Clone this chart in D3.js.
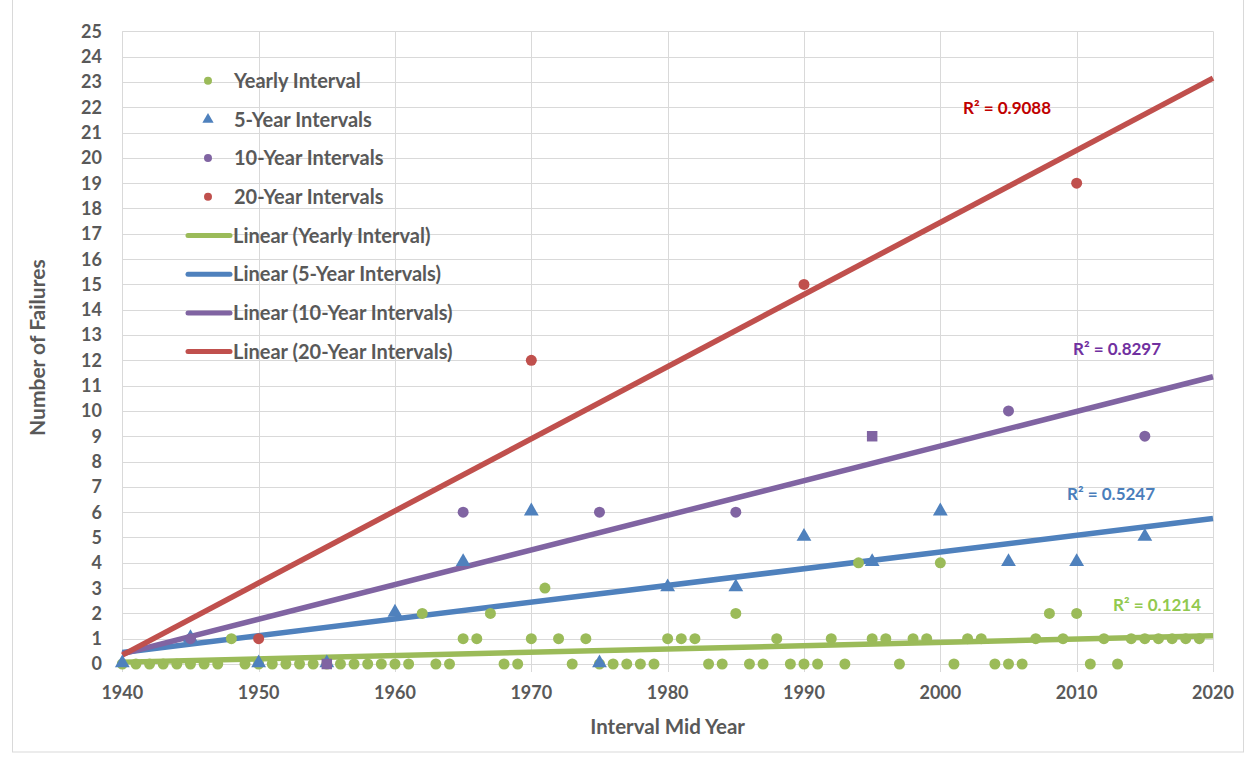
<!DOCTYPE html>
<html>
<head>
<meta charset="utf-8">
<script src="https://cdn.jsdelivr.net/npm/d3@7"></script>
<style>
  html, body { margin: 0; padding: 0; background: #fff; }
  svg { display: block; font-family: Lato, "Open Sans", sans-serif; }
</style>
</head>
<body>
<svg id="chart" width="1254" height="757"></svg>
<script>
// yearly failures 1940 - 2019
var yearlyYears = [1940,1941,1942,1943,1944,1945,1946,1947,1948,1949,
                   1950,1951,1952,1953,1954,1955,1956,1957,1958,1959,
                   1960,1961,1962,1963,1964,1965,1966,1967,1968,1969,
                   1970,1971,1972,1973,1974,1975,1976,1977,1978,1979,
                   1980,1981,1982,1983,1984,1985,1986,1987,1988,1989,
                   1990,1991,1992,1993,1994,1995,1996,1997,1998,1999,
                   2000,2001,2002,2003,2004,2005,2006,2007,2008,2009,
                   2010,2011,2012,2013,2014,2015,2016,2017,2018,2019];
var yearlyCounts = [0,0,0,0,0,0,0,0,1,0,
                    0,0,0,0,0,0,0,0,0,0,
                    0,0,2,0,0,1,1,2,0,0,
                    1,3,1,0,1,0,0,0,0,0,
                    1,1,1,0,0,2,0,0,1,0,
                    0,0,1,0,4,1,1,0,1,1,
                    4,0,1,1,0,0,0,1,2,1,
                    2,0,1,0,1,1,1,1,1,1];

var fiveYears = [1940,1945,1950,1955,1960,1965,1970,1975,1980,1985,1990,1995,2000,2005,2010,2015];
var fiveCounts = [0,1,0,0,2,4,6,0,3,3,5,4,6,4,4,5];

var tenYears = [1945,1955,1965,1975,1985,1995,2005,2015];
var tenCounts = [1,0,6,6,6,9,10,9];

var twentyYears = [1950,1970,1990,2010];
var twentyCounts = [1,12,15,19];

var xTicks = [1940,1950,1960,1970,1980,1990,2000,2010,2020];
var yTicks = d3.range(0, 26);

var seriesNames = ['Yearly Interval','5-Year Intervals','10-Year Intervals','20-Year Intervals'];

var green = '#9bbb59', blue = '#4f81bd', purple = '#8064a2', red = '#c0504d';
var textGray = '#595959';
var gridColor = '#d9d9d9';

var svg = d3.select('#chart');

var x = d3.scaleLinear().domain([1940, 2020]).range([122.3, 1213]);
var y = d3.scaleLinear().domain([0, 25]).range([664, 31.3]);

// outer chart border
svg.append('rect')
    .attr('x', 12.5).attr('y', -1)
    .attr('width', 1231).attr('height', 753)
    .attr('fill', 'none')
    .attr('stroke', gridColor);

// grid
svg.append('g').selectAll('line')
    .data(yTicks)
    .join('line')
    .attr('x1', x(1940)).attr('x2', x(2020))
    .attr('y1', function(d) { return Math.round(y(d)) + 0.5; })
    .attr('y2', function(d) { return Math.round(y(d)) + 0.5; })
    .attr('stroke', gridColor);

svg.append('g').selectAll('line')
    .data(xTicks)
    .join('line')
    .attr('x1', function(d) { return Math.round(x(d)) + 0.5; })
    .attr('x2', function(d) { return Math.round(x(d)) + 0.5; })
    .attr('y1', y(25)).attr('y2', y(0) + 8)
    .attr('stroke', gridColor);

// axis labels
svg.append('g').selectAll('text')
    .data(yTicks)
    .join('text')
    .attr('x', 102)
    .attr('y', function(d) { return y(d); })
    .attr('dy', '0.36em')
    .attr('text-anchor', 'end')
    .attr('font-size', 18)
    .attr('font-weight', 'bold')
    .attr('fill', textGray)
    .text(function(d) { return d; });

svg.append('g').selectAll('text')
    .data(xTicks)
    .join('text')
    .attr('x', function(d) { return x(d); })
    .attr('y', 693)
    .attr('dy', '0.36em')
    .attr('text-anchor', 'middle')
    .attr('font-size', 18)
    .attr('font-weight', 'bold')
    .attr('fill', textGray)
    .text(function(d) { return d; });

svg.append('text')
    .attr('x', (x(1940) + x(2020)) / 2)
    .attr('y', 727)
    .attr('dy', '0.36em')
    .attr('text-anchor', 'middle')
    .attr('font-size', 20.5)
    .attr('font-weight', 'bold')
    .attr('fill', textGray)
    .text('Interval Mid Year');

svg.append('text')
    .attr('transform', 'translate(37,' + (y(0) + y(25)) / 2 + ') rotate(-90)')
    .attr('dy', '0.36em')
    .attr('text-anchor', 'middle')
    .attr('font-size', 21)
    .attr('font-weight', 'bold')
    .attr('fill', textGray)
    .text('Number of Failures');

// least squares fit
function fit(xs, ys) {
    var mx = d3.mean(xs), my = d3.mean(ys);
    var sxy = 0, sxx = 0, syy = 0;
    xs.forEach(function(v, i) {
        sxy += (v - mx) * (ys[i] - my);
        sxx += (v - mx) * (v - mx);
        syy += (ys[i] - my) * (ys[i] - my);
    });
    var slope = sxy / sxx;
    return { slope: slope, icpt: my - slope * mx, r2: sxy * sxy / (sxx * syy) };
}

var trends = [
    { f: fit(yearlyYears, yearlyCounts), color: green, textColor: '#92c94f', lx: 1113, ly: 605 },
    { f: fit(fiveYears, fiveCounts), color: blue, textColor: '#4a7ebb', lx: 1067, ly: 494 },
    { f: fit(tenYears, tenCounts), color: purple, textColor: '#7030a0', lx: 1073, ly: 349 },
    { f: fit(twentyYears, twentyCounts), color: red, textColor: '#c00000', lx: 963, ly: 108 }
];

var line = d3.line()
    .x(function(d) { return x(d[0]); })
    .y(function(d) { return y(d[1]); });

trends.forEach(function(t) {
    var pts = [1940, 2020].map(function(v) { return [v, t.f.icpt + t.f.slope * v]; });
    svg.append('path')
        .attr('d', line(pts))
        .attr('fill', 'none')
        .attr('stroke', t.color)
        .attr('stroke-width', 5.5);
});

// markers
svg.append('g').selectAll('circle')
    .data(yearlyYears)
    .join('circle')
    .attr('cx', function(d) { return x(d); })
    .attr('cy', function(d, i) { return y(yearlyCounts[i]); })
    .attr('r', 5.5)
    .attr('fill', green);

var tri = d3.symbol().type(d3.symbolTriangle).size(95);
svg.append('g').selectAll('path')
    .data(fiveYears)
    .join('path')
    .attr('d', tri)
    .attr('transform', function(d, i) { return 'translate(' + x(d) + ',' + (y(fiveCounts[i]) - 1) + ')'; })
    .attr('fill', blue);

var squareYears = [1955, 1995];
svg.append('g').selectAll('path')
    .data(tenYears)
    .join('path')
    .attr('d', function(d) {
        return squareYears.indexOf(d) >= 0
            ? d3.symbol().type(d3.symbolSquare).size(110)()
            : d3.symbol().type(d3.symbolCircle).size(95)();
    })
    .attr('transform', function(d, i) { return 'translate(' + x(d) + ',' + y(tenCounts[i]) + ')'; })
    .attr('fill', purple);

svg.append('g').selectAll('circle')
    .data(twentyYears)
    .join('circle')
    .attr('cx', function(d) { return x(d); })
    .attr('cy', function(d, i) { return y(twentyCounts[i]); })
    .attr('r', 5.5)
    .attr('fill', red);

// R squared labels
trends.forEach(function(t) {
    svg.append('text')
        .attr('x', t.lx)
        .attr('y', t.ly)
        .attr('dy', '0.36em')
        .attr('font-size', 17)
        .attr('font-weight', 'bold')
        .attr('fill', t.textColor)
        .text('R\u00b2 = ' + t.f.r2.toFixed(4));
});

// legend
var legendY = d3.range(8).map(function(i) { return 80.7 + i * 38.7; });
var legend = svg.append('g');
var markerColors = [green, blue, purple, red];

markerColors.forEach(function(c, i) {
    var sym = i === 1 ? d3.symbolTriangle : d3.symbolCircle;
    legend.append('path')
        .attr('d', d3.symbol().type(sym).size(i === 1 ? 55 : 50)())
        .attr('transform', 'translate(208,' + legendY[i] + ')')
        .attr('fill', c);
    legend.append('text')
        .attr('x', 234).attr('y', legendY[i])
        .attr('dy', '0.36em')
        .attr('font-size', 20)
        .attr('font-weight', 'bold')
        .attr('fill', textGray)
        .text(seriesNames[i]);
});

markerColors.forEach(function(c, i) {
    var ly = legendY[i + 4];
    legend.append('line')
        .attr('x1', 188).attr('x2', 230)
        .attr('y1', ly).attr('y2', ly)
        .attr('stroke', c)
        .attr('stroke-width', 5)
        .attr('stroke-linecap', 'round');
    legend.append('text')
        .attr('x', 233).attr('y', ly)
        .attr('dy', '0.36em')
        .attr('font-size', 20)
        .attr('font-weight', 'bold')
        .attr('fill', textGray)
        .text('Linear (' + seriesNames[i] + ')');
});
</script>
</body>
</html>
